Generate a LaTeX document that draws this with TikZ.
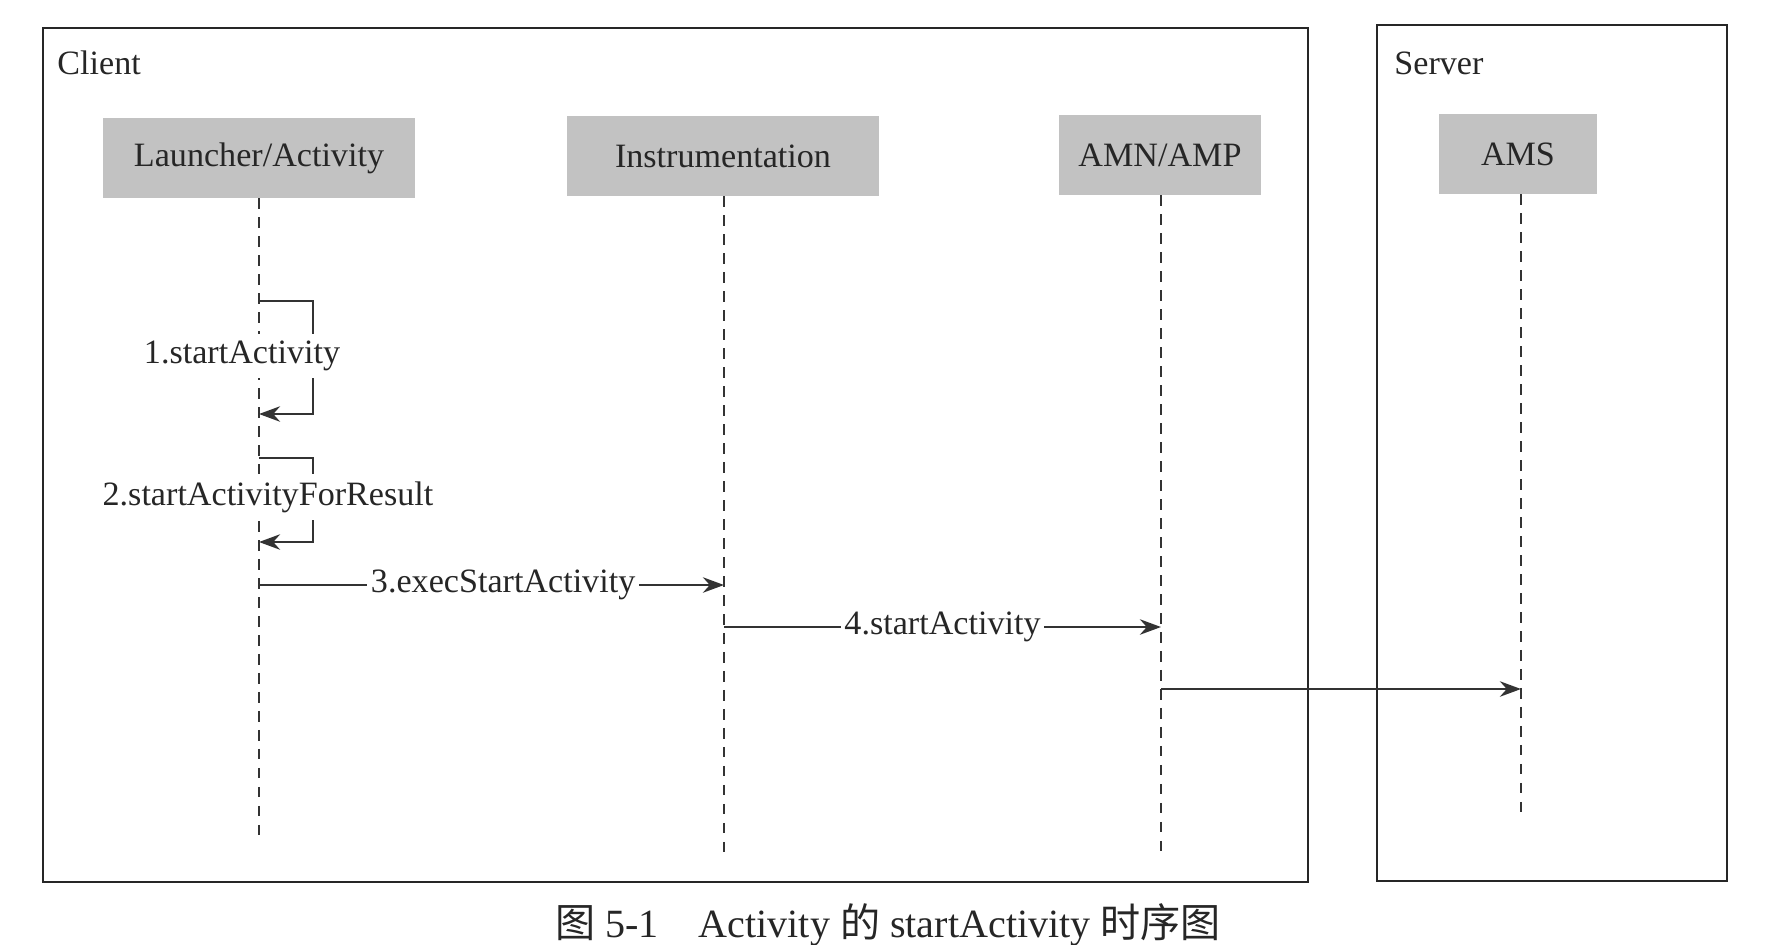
\documentclass[tikz,border=0pt]{standalone}
\usepackage{fontspec}
\setmainfont{Liberation Serif}
\newfontfamily\cjk{Noto Sans CJK SC}
\usetikzlibrary{arrows.meta}

\begin{document}
\begin{tikzpicture}[x=0.01cm, y=-0.01cm,
  every node/.style={text=black!85, font=\fontsize{9.7}{11.6}\selectfont},
  actor/.style={fill=black!24, minimum height=0.79cm, inner sep=0pt},
  life/.style={black!80, line width=0.6pt, dash pattern=on 3pt off 2.4pt},
  msg/.style={black!80, line width=0.6pt, -{Stealth[length=6pt, width=4.4pt]}},
  msglbl/.style={fill=white, inner xsep=1pt, inner ysep=2pt}]

\useasboundingbox (0,0) rectangle (1768,944);

% Client
\draw[black!85, line width=0.7pt] (43,28) rectangle (1308,882);
\node[anchor=west] (clientlbl) at (45,63) {Client};

% Server
\draw[black!85, line width=0.7pt] (1377,25) rectangle (1727,881);
\node[anchor=west] (serverlbl) at (1382,63) {Server};

% Objetos
\node[actor, minimum width=3.11cm] (launcher) at (259,158) {Launcher/Activity};
\node[actor, minimum width=3.11cm] (instr) at (723,156) {Instrumentation};
\node[actor, minimum width=2.01cm] (amn) at (1160,155) {AMN/AMP};
\node[actor, minimum width=1.57cm] (ams) at (1518,154) {AMS};

% Lineas de vida
\coordinate (launcherEnd) at (259,843);
\coordinate (instrEnd) at (724,857);
\coordinate (amnEnd) at (1161,855);
\coordinate (amsEnd) at (1521,812);
\draw[life] (launcher.south -| launcherEnd) -- (launcherEnd);
\draw[life] (instr.south -| instrEnd) -- (instrEnd);
\draw[life] (amn.south -| amnEnd) -- (amnEnd);
\draw[life] (ams.south -| amsEnd) -- (amsEnd);

% 1 y 2
\coordinate (s1a) at (259,301);
\coordinate (s1b) at (259,414);
\draw[msg] (s1a) -- ++(54,0) -- ++(0,113) -- (s1b);
\node[msglbl] (lbl1) at (242,356) {1.startActivity};

\coordinate (s2a) at (259,458);
\coordinate (s2b) at (259,542);
\draw[msg] (s2a) -- ++(54,0) -- ++(0,84) -- (s2b);
\node[msglbl] (lbl2) at (268,497) {2.startActivityForResult};

% 3
\coordinate (m3a) at (259,585);
\coordinate (m3b) at (724,585);
\draw[msg] (m3a) -- node[msglbl, pos=0.525] (lbl3) {3.execStartActivity} (m3b);

% 4
\coordinate (m4a) at (724,627);
\coordinate (m4b) at (1161,627);
\draw[msg] (m4a) -- node[msglbl] (lbl4) {4.startActivity} (m4b);

% 5
\coordinate (m5a) at (1161,689);
\coordinate (m5b) at (1521,689);
\draw[msg] (m5a) -- (m5b);

\node[font=\fontsize{11.4}{14}\selectfont] (caption) at (888,925)
{{\cjk 图} 5-1\quad Activity {\cjk 的} startActivity {\cjk 时序图}};

\end{tikzpicture}
\end{document}
